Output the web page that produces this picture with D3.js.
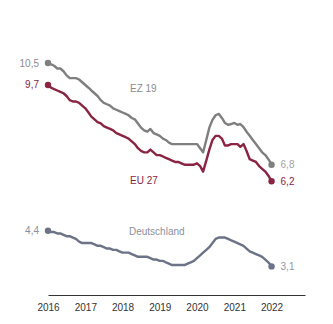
<!DOCTYPE html>
<html>
<head>
<meta charset="utf-8">
<script src="https://cdn.jsdelivr.net/npm/d3@7"></script>
<style>
  body { margin: 0; background: #fff; }
  svg { font-family: "Liberation Sans", Arial, sans-serif; }
</style>
</head>
<body>
<div id="chart"></div>
<script>
// monthly unemployment rates, Jan 2016 .. Jan 2022
var startYear = 2016;
var years = [2016, 2017, 2018, 2019, 2020, 2021, 2022];

var ez19 = [10.5, 10.45, 10.4, 10.3, 10.3, 10.2, 10.05, 9.95, 9.95, 9.95, 9.9, 9.8,
  9.7, 9.6, 9.5, 9.4, 9.3, 9.15, 9.05, 9.0, 8.95, 8.85, 8.8, 8.75,
  8.7, 8.65, 8.6, 8.5, 8.45, 8.3, 8.15, 8.05, 8.0, 8.1, 7.95, 7.9,
  7.85, 7.75, 7.7, 7.6, 7.55, 7.55, 7.55, 7.55, 7.55, 7.55, 7.55, 7.55,
  7.55, 7.4, 7.25, 7.7, 8.15, 8.43, 8.6, 8.65, 8.5, 8.32, 8.25, 8.28,
  8.32, 8.25, 8.28, 8.17, 8.0, 7.85, 7.7, 7.55, 7.4, 7.25, 7.15, 7.0,
  6.8];

var eu27 = [9.7, 9.6, 9.55, 9.5, 9.45, 9.4, 9.3, 9.15, 9.1, 9.1, 9.05, 8.95,
  8.85, 8.7, 8.55, 8.45, 8.35, 8.3, 8.2, 8.15, 8.1, 8.05, 7.95, 7.9,
  7.85, 7.8, 7.75, 7.65, 7.55, 7.4, 7.3, 7.25, 7.25, 7.35, 7.25, 7.15,
  7.15, 7.1, 7.05, 7.0, 6.95, 6.9, 6.9, 6.85, 6.8, 6.8, 6.8, 6.8,
  6.85, 6.75, 6.55, 6.95, 7.35, 7.7, 7.85, 7.85, 7.75, 7.5, 7.5, 7.55,
  7.55, 7.55, 7.45, 7.55, 7.3, 7.0, 6.95, 6.9, 6.75, 6.65, 6.55, 6.4,
  6.2];

var deutschland = [4.4, 4.35, 4.35, 4.3, 4.3, 4.25, 4.2, 4.2, 4.15, 4.1, 4.0, 3.95,
  3.95, 3.95, 3.95, 3.9, 3.85, 3.85, 3.8, 3.75, 3.75, 3.7, 3.7, 3.65,
  3.6, 3.6, 3.6, 3.55, 3.5, 3.45, 3.45, 3.45, 3.45, 3.4, 3.35, 3.35,
  3.3, 3.3, 3.25, 3.2, 3.15, 3.15, 3.15, 3.15, 3.15, 3.2, 3.25, 3.3,
  3.4, 3.5, 3.6, 3.7, 3.8, 3.95, 4.1, 4.15, 4.15, 4.15, 4.1, 4.05,
  4.0, 3.95, 3.9, 3.85, 3.75, 3.65, 3.6, 3.55, 3.5, 3.45, 3.35, 3.25,
  3.1];

var seriesNames = ["EZ 19", "EU 27", "Deutschland"];
var startLabels = ["10,5", "9,7", "4,4"];
var endLabels = ["6,8", "6,2", "3,1"];

var width = 333, height = 324;

var svg = d3.select("#chart").append("svg")
  .attr("width", width)
  .attr("height", height);

var x = d3.scaleTime()
  .domain([new Date(2016, 0, 1), new Date(2022, 10, 25)])
  .range([48, 305]);

var y = d3.scaleLinear()
  .domain([2.06, 10.5])
  .range([295, 63]);

function toDate(i) { return new Date(startYear, i, 1); }

// axis
var xAxis = svg.append("g")
  .attr("transform", "translate(0," + 295 + ")")
  .call(d3.axisBottom(x)
    .tickValues(years.map(function (yr) { return new Date(yr, 0, 1); }))
    .tickFormat(d3.timeFormat("%Y"))
    .tickSize(0)
    .tickSizeOuter(0)
    .tickPadding(9));
xAxis.select(".domain").attr("stroke", "#333").attr("stroke-width", 1);
xAxis.selectAll("text").attr("fill", "#333").style("font-size", "10px")
  .style("font-family", "Liberation Sans, Arial, sans-serif");

var series = [
  { name: seriesNames[0], values: ez19, color: "#7f7f7f", text: "#8c8c8c", endText: "#a3a3a3", lx: 130, ly: 92, s: startLabels[0], e: endLabels[0] },
  { name: seriesNames[1], values: eu27, color: "#8a2443", text: "#8a2443", endText: "#8a2443", lx: 130, ly: 184, s: startLabels[1], e: endLabels[1] },
  { name: seriesNames[2], values: deutschland, color: "#6c7386", text: "#8a8fa0", endText: "#9296a6", lx: 129, ly: 235, s: startLabels[2], e: endLabels[2] }
];

var line = d3.line()
  .x(function (d, i) { return x(toDate(i)); })
  .y(function (d) { return y(d); });

series.forEach(function (s) {
  var n = s.values.length - 1;
  svg.append("path")
    .datum(s.values)
    .attr("fill", "none")
    .attr("stroke", s.color)
    .attr("stroke-width", 2.4)
    .attr("stroke-linejoin", "round")
    .attr("d", line);

  [0, n].forEach(function (i) {
    svg.append("circle")
      .attr("cx", x(toDate(i)))
      .attr("cy", y(s.values[i]))
      .attr("r", 3.2)
      .attr("fill", s.color);
  });

  svg.append("text")
    .attr("x", x(toDate(0)) - 9)
    .attr("y", y(s.values[0]))
    .attr("dy", "0.35em")
    .attr("text-anchor", "end")
    .attr("fill", s.text)
    .style("font-size", "10px")
    .text(s.s);

  svg.append("text")
    .attr("x", x(toDate(n)) + 9)
    .attr("y", y(s.values[n]))
    .attr("dy", "0.35em")
    .attr("fill", s.endText)
    .style("font-size", "10px")
    .text(s.e);

  svg.append("text")
    .attr("x", s.lx)
    .attr("y", s.ly)
    .attr("fill", s.text)
    .style("font-size", "10px")
    .text(s.name);
});
</script>
</body>
</html>
